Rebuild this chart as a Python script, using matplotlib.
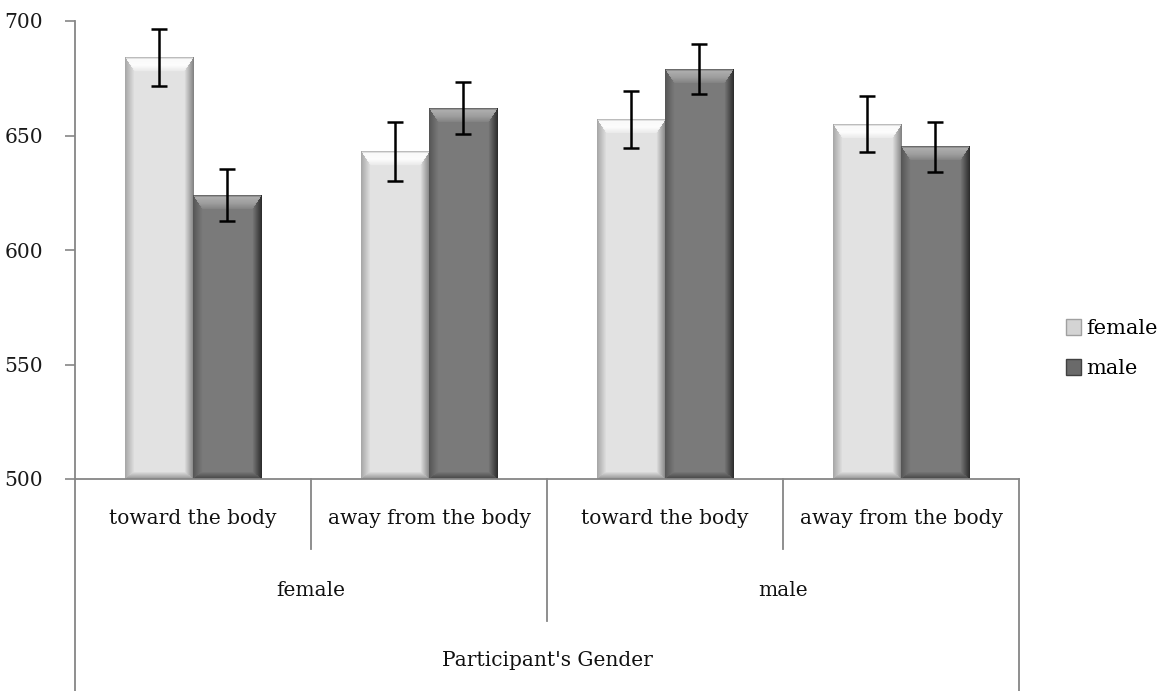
import matplotlib
matplotlib.use("Agg")
import matplotlib.pyplot as plt
import numpy as np
from matplotlib.patches import Patch

# datos
condiciones = ["toward the body", "away from the body", "toward the body", "away from the body"]
genero_participante = ["female", "male"]
titulo_eje = "Participant's Gender"
series = ["female", "male"]
medias_female = [684, 643, 657, 655]
error_female = [12.3, 12.7, 12.6, 12.2]
medias_male = [624, 662, 679, 645]
error_male = [11.3, 11.3, 11.0, 10.8]
y_ticks = [500, 550, 600, 650, 700]

FUENTE = "DejaVu Serif"
ANCHO, ALTO, DPI = 1165, 691, 100
Y_MIN, Y_MAX = 500, 700
ANCHO_BARRA = 0.29

fig = plt.figure(figsize=(ANCHO / DPI, ALTO / DPI), dpi=DPI)
izq, der, arr, aba = 75, 1019, 21, 479
ax = fig.add_axes([izq / ANCHO, 1 - aba / ALTO, (der - izq) / ANCHO, (aba - arr) / ALTO])

px_x = (der - izq) / len(condiciones)
px_y = (aba - arr) / (Y_MAX - Y_MIN)


def imagen_bisel(w, h, cara, borde_izq, borde_der, sup, borde_inf, b=9, bt=14, bb=7):
    """Crea la imagen en grises de una barra con bisel (estilo Excel)."""
    yy, xx = np.mgrid[0:h, 0:w].astype(float)
    dist = np.stack([xx / b, (w - 1 - xx) / b, yy / bt, (h - 1 - yy) / bb])
    region = dist.argmin(axis=0)
    m = np.clip(dist.min(axis=0), 0, 1)
    img = np.full((h, w), cara)
    zona = m < 1
    v_izq = borde_izq + (cara - borde_izq) * m
    v_der = borde_der + (cara - borde_der) * m
    v_sup = np.interp(m, [0, 0.12, 0.55, 1.0], sup)
    v_inf = borde_inf + (cara - borde_inf) * m
    for k, v in enumerate([v_izq, v_der, v_sup, v_inf]):
        sel = zona & (region == k)
        img[sel] = v[sel]
    return np.repeat(img[:, :, None], 3, axis=2)


estilos = {
    "female": dict(cara=0.89, borde_izq=0.66, borde_der=0.52, sup=[0.74, 0.98, 0.99, 0.91], borde_inf=0.60),
    "male": dict(cara=0.48, borde_izq=0.34, borde_der=0.18, sup=[0.42, 0.68, 0.62, 0.50], borde_inf=0.28),
}

x = np.arange(len(condiciones))
for serie, medias, errores, desp in [
    ("female", medias_female, error_female, -0.5),
    ("male", medias_male, error_male, 0.5),
]:
    for xi, val in zip(x, medias):
        x0 = xi + desp * ANCHO_BARRA - ANCHO_BARRA / 2
        w = max(int(round(ANCHO_BARRA * px_x)), 2)
        h = max(int(round((val - Y_MIN) * px_y)), 2)
        ax.imshow(imagen_bisel(w, h, **estilos[serie]), extent=(x0, x0 + ANCHO_BARRA, Y_MIN, val),
                  aspect="auto", interpolation="bilinear", zorder=1)
    ax.errorbar(x + desp * ANCHO_BARRA, medias, yerr=errores, fmt="none", ecolor="black",
                elinewidth=1.8, capsize=6, capthick=1.8, zorder=3)

ax.set_xlim(-0.5, len(condiciones) - 0.5)
ax.set_ylim(Y_MIN, Y_MAX)
ax.set_yticks(y_ticks)
ax.set_yticklabels([str(t) for t in y_ticks], fontfamily=FUENTE, fontsize=14.5, color="#1a1a1a")
ax.tick_params(axis="y", direction="out", length=7, width=1.2, color="#868686", pad=16)
ax.set_xticks([])
for lado in ["top", "right"]:
    ax.spines[lado].set_visible(False)
for lado in ["left", "bottom"]:
    ax.spines[lado].set_color("#868686")
    ax.spines[lado].set_linewidth(1.3)

# caja de categorias debajo del eje
trans = ax.get_xaxis_transform()
fondo = ax.transAxes.inverted().transform(fig.transFigure.transform((0, 0)))[1]
linea = dict(color="#868686", lw=1.3, transform=trans, clip_on=False)
ax.plot([-0.5, -0.5], [0, fondo], **linea)
ax.plot([3.5, 3.5], [0, fondo], **linea)
ax.plot([0.5, 0.5], [0, -0.153], **linea)
ax.plot([2.5, 2.5], [0, -0.153], **linea)
ax.plot([1.5, 1.5], [0, -0.309], **linea)

for xi, etiqueta in zip(x, condiciones):
    ax.text(xi, -0.087, etiqueta, transform=trans, ha="center", va="center",
            fontfamily=FUENTE, fontsize=14.5, color="#111111")
for i, g in enumerate(genero_participante):
    ax.text(0.5 + 2 * i, -0.244, g, transform=trans, ha="center", va="center",
            fontfamily=FUENTE, fontsize=14.5, color="#111111")
ax.text(1.5, -0.397, titulo_eje, transform=trans, ha="center", va="center",
        fontfamily=FUENTE, fontsize=14.5, color="#111111")

manejadores = [
    Patch(facecolor="#d4d4d4", edgecolor="#a0a0a0"),
    Patch(facecolor="#6a6a6a", edgecolor="#404040"),
]
ax.legend(manejadores, series, loc="center left", bbox_to_anchor=(1.03, 0.285),
          frameon=False, handlelength=0.7, handleheight=0.8, handletextpad=0.25,
          labelspacing=1.0, prop={"family": FUENTE, "size": 15})

fig.savefig("out.png", dpi=DPI)
